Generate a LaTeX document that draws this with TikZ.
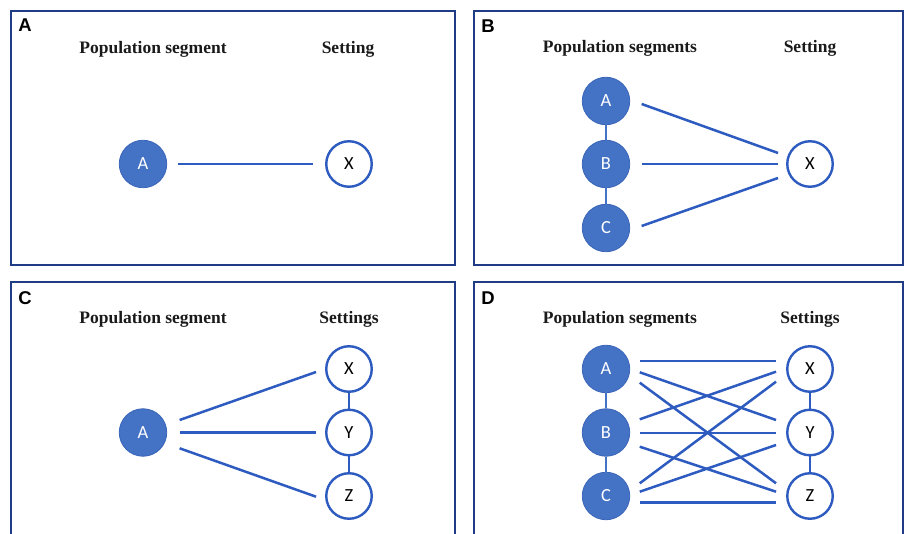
\documentclass[tikz,border=0pt]{standalone}
\usepackage{fontspec}
\setmainfont{Liberation Serif}
\newfontfamily\circfont{Carlito}
\newfontfamily\panelfont{Liberation Sans}
\definecolor{navy}{HTML}{203C86}
\definecolor{segblue}{HTML}{4472C4}
\definecolor{segedge}{HTML}{3B65B8}
\definecolor{linkblue}{HTML}{2E5BC0}
\definecolor{titlegray}{HTML}{1A1A1A}
\tikzset{
  panelbox/.style={draw=navy, line width=2.8pt},
  seg/.style={circle, fill=segblue, draw=segedge, line width=0.8pt, minimum size=47.5pt, inner sep=0pt, text=white, font=\circfont\fontsize{18.5}{18}\selectfont},
  sett/.style={circle, fill=white, draw=linkblue, line width=2.4pt, minimum size=45.5pt, inner sep=0pt, text=black, font=\circfont\fontsize{18.5}{18}\selectfont},
  ttl/.style={anchor=base, text=titlegray, font=\bfseries\fontsize{17.5}{20}\selectfont},
  plabel/.style={text=black, font=\panelfont\bfseries\fontsize{18.5}{18}\selectfont, inner sep=0pt},
  link/.style={draw=linkblue, line width=2.5pt},
  vlink/.style={draw=segblue, line width=2.5pt}
}
\begin{document}
\begin{tikzpicture}[x=1pt, y=-1pt]
\clip (0,0) rectangle (905,534);
\fill[white] (0,0) rectangle (905,534);
% panels
\draw[panelbox] (11,11) rectangle (455,265);
\draw[panelbox] (474,11) rectangle (903,265);
\draw[panelbox] (11,282) rectangle (455,560);
\draw[panelbox] (474,282) rectangle (903,560);
% panel letters
\node[plabel] (la) at (25,25) {A};
\node[plabel] (lb) at (488,26) {B};
\node[plabel] (lc) at (25,298) {C};
\node[plabel] (ld) at (488,298) {D};
% titles
\node[ttl] (ta1) at (153,54) {Population segment};
\node[ttl] (ta2) at (348,54) {Setting};
\node[ttl] (tb1) at (620,53) {Population segments};
\node[ttl] (tb2) at (810,53) {Setting};
\node[ttl] (tc1) at (153,324) {Population segment};
\node[ttl] (tc2) at (349,324) {Settings};
\node[ttl] (td1) at (620,324) {Population segments};
\node[ttl] (td2) at (810,324) {Settings};
% Panel A
\node[seg] (aA) at (143,164) {A};
\node[sett] (aX) at (349,164) {X};
\draw[link] ([shift={(11,0)}]aA.east) -- ([shift={(-12,0)}]aX.west);
% Panel B
\node[seg] (bA) at (606,101) {A};
\node[seg] (bB) at (606,164) {B};
\node[seg] (bC) at (606,228) {C};
\node[sett] (bX) at (810,164) {X};
\draw[vlink] (bA.south) -- (bB.north);
\draw[vlink] (bB.south) -- (bC.north);
\draw[link] ([shift={(11.5,3)}]bA.east) -- ([shift={(-8,-11)}]bX.west);
\draw[link] ([shift={(11.5,0)}]bB.east) -- ([shift={(-8,0)}]bX.west);
\draw[link] ([shift={(11.5,-2)}]bC.east) -- ([shift={(-8,14)}]bX.west);
% Panel C
\node[seg] (cA) at (143,432.5) {A};
\node[sett] (cX) at (349,369) {X};
\node[sett] (cY) at (349,432.5) {Y};
\node[sett] (cZ) at (349,496) {Z};
\draw[link] (cX.south) -- (cY.north);
\draw[link] (cY.south) -- (cZ.north);
\draw[link] ([shift={(12.5,-12.5)}]cA.east) -- ([shift={(-9,3)}]cX.west);
\draw[link] ([shift={(12.5,0)}]cA.east) -- ([shift={(-9,0)}]cY.west);
\draw[link] ([shift={(12.5,15.8)}]cA.east) -- ([shift={(-9,0.7)}]cZ.west);
% Panel D
\node[seg] (dA) at (606,369) {A};
\node[seg] (dB) at (606,432.5) {B};
\node[seg] (dC) at (606,496) {C};
\node[sett] (dX) at (810,369) {X};
\node[sett] (dY) at (810,432.5) {Y};
\node[sett] (dZ) at (810,496) {Z};
\draw[vlink] (dA.south) -- (dB.north);
\draw[vlink] (dB.south) -- (dC.north);
\draw[link] (dX.south) -- (dY.north);
\draw[link] (dY.south) -- (dZ.north);
\draw[link] ([shift={(9.6,-8)}]dA.east) -- ([shift={(-10,-8)}]dX.west);
\draw[link] ([shift={(9.6,3.3)}]dA.east) -- ([shift={(-10,-12.5)}]dY.west);
\draw[link] ([shift={(9.6,13.7)}]dA.east) -- ([shift={(-10,-12.7)}]dZ.west);
\draw[link] ([shift={(9.6,-13.2)}]dB.east) -- ([shift={(-10,2.7)}]dX.west);
\draw[link] ([shift={(9.6,0.5)}]dB.east) -- ([shift={(-10,0.5)}]dY.west);
\draw[link] ([shift={(9.6,14.2)}]dB.east) -- ([shift={(-10,-4.3)}]dZ.west);
\draw[link] ([shift={(9.6,-12.7)}]dC.east) -- ([shift={(-10,12.7)}]dX.west);
\draw[link] ([shift={(9.6,-4.3)}]dC.east) -- ([shift={(-10,12.5)}]dY.west);
\draw[link] ([shift={(9.6,6.3)}]dC.east) -- ([shift={(-10,6.3)}]dZ.west);
\end{tikzpicture}
\end{document}
